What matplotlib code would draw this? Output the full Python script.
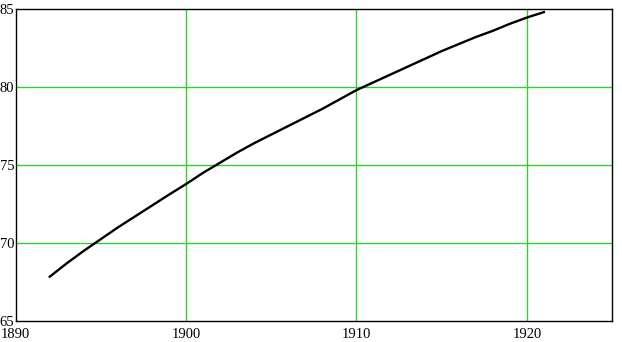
import matplotlib.pyplot as plt

years = list(range(1892, 1922))
values = [67.84, 68.7, 69.5, 70.25, 71.0, 71.7, 72.4, 73.1, 73.78, 74.5,
          75.15, 75.8, 76.4, 76.95, 77.5, 78.05, 78.6, 79.2, 79.8, 80.3,
          80.8, 81.3, 81.8, 82.3, 82.75, 83.2, 83.6, 84.05, 84.45, 84.8]

x_ticks = [1890, 1900, 1910, 1920]
y_ticks = [65, 70, 75, 80, 85]

plt.rcParams["font.family"] = ["Liberation Serif", "DejaVu Serif"]

fig = plt.figure(figsize=(6.22, 3.42), dpi=100)
ax = fig.add_axes([0.0252, 0.0614, 0.9588, 0.9123])

ax.set_xlim(1890, 1925)
ax.set_ylim(65, 85)

# green grid on the inner lines only
for x in x_ticks[1:]:
    ax.axvline(x, color="#33cc33", lw=1.0, zorder=1)
for y in y_ticks[1:-1]:
    ax.axhline(y, color="#33cc33", lw=1.0, zorder=1)

ax.plot(years, values, color="black", lw=1.7, zorder=3)

ax.set_xticks(x_ticks)
ax.set_yticks(y_ticks)
ax.tick_params(length=0, labelsize=10.5, colors="black")
ax.tick_params(axis="x", pad=5)
ax.tick_params(axis="y", pad=1)

for s in ax.spines.values():
    s.set_color("black")
    s.set_linewidth(1.0)

fig.savefig("out.png", dpi=100)
